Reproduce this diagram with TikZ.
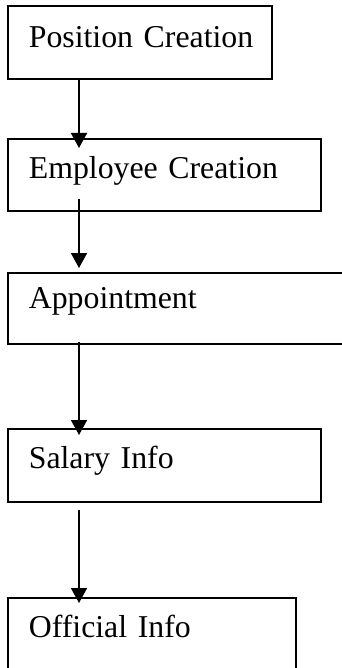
\documentclass[tikz,border=0pt]{standalone}
\usepackage{fontspec}
\setmainfont{Liberation Serif}
\usetikzlibrary{arrows.meta}
\begin{document}
\begin{tikzpicture}[x=1pt,y=1pt,
  box/.style={draw, line width=1.7pt, rectangle, anchor=north west, inner xsep=21pt, inner ysep=0pt,
    align=left, font=\fontsize{31.8pt}{34pt}\selectfont},
  flow/.style={line width=1.7pt, -{Triangle[width=16pt,length=15pt]}}]
\useasboundingbox (0,0) rectangle (341,-668);
\node[box, text width=222pt, text height=42pt, text depth=31pt] (pos) at (7,-5) {\mbox{Position Creation}};
\node[box, text width=271pt, text height=40pt, text depth=32pt] (emp) at (7,-138) {\mbox{Employee Creation}};
\node[box, text width=300pt, text height=36pt, text depth=35pt] (app) at (7,-272) {\mbox{Appointment}};
\node[box, text width=271pt, text height=40pt, text depth=33pt] (sal) at (7,-428) {\mbox{Salary Info}};
\node[box, text width=246pt, text height=40pt, text depth=40pt] (off) at (7,-597) {\mbox{Official Info}};
\draw[flow, shorten >=-10pt] ([xshift=72pt]pos.south west) -- ([xshift=72pt]emp.north west);
\draw[flow, shorten <=-13pt, shorten >=4pt] ([xshift=72pt]emp.south west) -- ([xshift=72pt]app.north west);
\draw[flow, shorten <=-3pt, shorten >=-7pt] ([xshift=72pt]app.south west) -- ([xshift=72pt]sal.north west);
\draw[flow, shorten <=7pt, shorten >=-6pt] ([xshift=72pt]sal.south west) -- ([xshift=72pt]off.north west);
\end{tikzpicture}
\end{document}
